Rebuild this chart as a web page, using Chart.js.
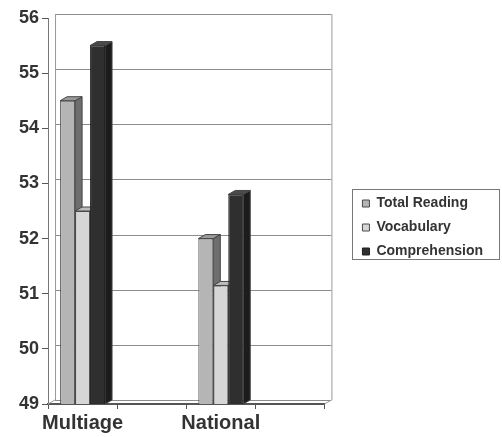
<!DOCTYPE html>
<html>
<head>
<meta charset="utf-8">
<script src="https://cdn.jsdelivr.net/npm/chart.js@4.4.0/dist/chart.umd.min.js"></script>
<style>
  html, body { margin: 0; padding: 0; background: #fff; }
  canvas { display: block; }
</style>
</head>
<body>
<canvas id="myChart" width="502" height="437"></canvas>
<script>
var labels = ["Multiage", "", "National", ""];
var totalReading = [54.5, null, 52.0, null];
var vocabulary = [52.5, null, 51.15, null];
var comprehension = [55.5, null, 52.8, null];
var yTicks = [49, 50, 51, 52, 53, 54, 55, 56];

var DX = 7, DY = 4;
var FONT = "'Liberation Sans', Arial, sans-serif";

// fake 3d: walls, grid on the back wall, side + top faces of the bars
var depthPlugin = {
    id: 'depth',
    beforeDatasetsDraw: function (chart) {
        var ctx = chart.ctx;
        var area = chart.chartArea;
        var yScale = chart.scales.y;
        ctx.save();
        ctx.lineWidth = 1;
        ctx.strokeStyle = '#8c8c8c';
        yTicks.forEach(function (v) {
            var y = Math.round(yScale.getPixelForValue(v) - DY) + 0.5;
            ctx.beginPath();
            ctx.moveTo(area.left + DX, y);
            ctx.lineTo(area.right + DX, y);
            ctx.stroke();
        });
        ctx.strokeStyle = '#999';
        ctx.beginPath();
        ctx.moveTo(area.left + DX + 0.5, area.top - DY);
        ctx.lineTo(area.left + DX + 0.5, area.bottom - DY);
        ctx.moveTo(area.right + DX + 0.5, area.top - DY);
        ctx.lineTo(area.right + DX + 0.5, area.bottom - DY);
        ctx.moveTo(area.left, area.bottom);
        ctx.lineTo(area.left + DX, area.bottom - DY);
        ctx.moveTo(area.right, area.bottom);
        ctx.lineTo(area.right + DX, area.bottom - DY);
        ctx.stroke();

        chart.data.datasets.forEach(function (ds, i) {
            var meta = chart.getDatasetMeta(i);
            meta.data.forEach(function (bar, j) {
                if (ds.data[j] == null) return;
                var p = bar.getProps(['x', 'y', 'base', 'width'], true);
                var l = p.x - p.width / 2, r = p.x + p.width / 2;
                var base = Math.min(p.base, area.bottom);
                ctx.strokeStyle = '#444';
                ctx.fillStyle = ds.sideColor;
                ctx.beginPath();
                ctx.moveTo(r, p.y);
                ctx.lineTo(r + DX, p.y - DY);
                ctx.lineTo(r + DX, base - DY);
                ctx.lineTo(r, base);
                ctx.closePath();
                ctx.fill();
                ctx.stroke();
                ctx.fillStyle = ds.topColor;
                ctx.beginPath();
                ctx.moveTo(l, p.y);
                ctx.lineTo(l + DX, p.y - DY);
                ctx.lineTo(r + DX, p.y - DY);
                ctx.lineTo(r, p.y);
                ctx.closePath();
                ctx.fill();
                ctx.stroke();
            });
        });
        ctx.restore();
    },
    afterDraw: function (chart) {
        var ctx = chart.ctx;
        // legend frame
        var boxes = chart.legend.legendHitBoxes;
        var minL = 1e9, minT = 1e9, maxR = 0, maxB = 0;
        boxes.forEach(function (b) {
            minL = Math.min(minL, b.left);
            minT = Math.min(minT, b.top);
            maxR = Math.max(maxR, b.left + b.width);
            maxB = Math.max(maxB, b.top + b.height);
        });
        ctx.save();
        ctx.strokeStyle = '#777';
        ctx.lineWidth = 1;
        ctx.strokeRect(Math.round(minL - 10) + 0.5, Math.round(minT - 8) + 0.5,
            Math.round(maxR - minL + 26), Math.round(maxB - minT + 8));
        ctx.restore();
    }
};

var ctx = document.getElementById('myChart').getContext('2d');
var myChart = new Chart(ctx, {
    type: 'bar',
    data: {
        labels: labels,
        datasets: [{
            label: 'Total Reading',
            data: totalReading,
            backgroundColor: '#b5b5b5',
            borderColor: '#4a4a4a',
            sideColor: '#6e6e6e',
            topColor: '#9a9a9a',
            borderWidth: 1
        },
        {
            label: 'Vocabulary',
            data: vocabulary,
            backgroundColor: '#d6d6d6',
            borderColor: '#4a4a4a',
            sideColor: '#8a8a8a',
            topColor: '#bdbdbd',
            borderWidth: 1
        },
        {
            label: 'Comprehension',
            data: comprehension,
            backgroundColor: '#2f2f2f',
            borderColor: '#1e1e1e',
            sideColor: '#1c1c1c',
            topColor: '#4a4a4a',
            borderWidth: 1
        }]
    },
    options: {
        responsive: false,
        animation: false,
        categoryPercentage: 0.65,
        barPercentage: 1.0,
        layout: { padding: { top: 18, right: 9, left: 16, bottom: 0 } },
        plugins: {
            tooltip: { enabled: false },
            legend: {
                position: 'right',
                maxWidth: 200,
                labels: {
                    boxWidth: 7,
                    boxHeight: 7,
                    padding: 10,
                    color: '#333',
                    font: { family: FONT, size: 14, weight: 'bold' }
                }
            }
        },
        scales: {
            x: {
                grid: { drawOnChartArea: false, drawTicks: true, tickLength: 5, offset: true, color: '#555' },
                border: { color: '#555', width: 2 },
                ticks: {
                    color: '#333',
                    padding: 4,
                    autoSkip: false,
                    maxRotation: 0,
                    minRotation: 0,
                    font: { family: FONT, size: 20, weight: 'bold', lineHeight: 1.0 }
                }
            },
            y: {
                min: 49,
                max: 56,
                afterBuildTicks: function (scale) {
                    scale.ticks = yTicks.map(function (v) { return { value: v }; });
                },
                grid: { drawOnChartArea: false, tickLength: 6, tickColor: '#555' },
                border: { color: '#777' },
                ticks: {
                    color: '#333',
                    padding: 3,
                    font: { family: FONT, size: 18, weight: 'bold' }
                }
            },
            gap: {
                position: 'right',
                display: true,
                grid: { display: false },
                border: { display: false },
                ticks: { display: false },
                afterFit: function (scale) { scale.width = 28; }
            }
        }
    },
    plugins: [depthPlugin]
});
</script>
</body>
</html>
